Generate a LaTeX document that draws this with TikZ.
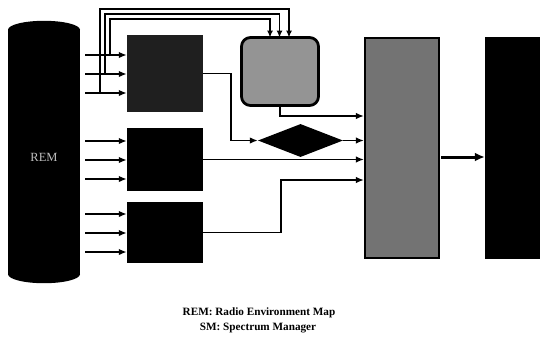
\documentclass[tikz,border=0pt]{standalone}
\usepackage{fontspec}
\setmainfont{Liberation Serif}
\usetikzlibrary{shapes.geometric,arrows.meta}
\begin{document}
\begin{tikzpicture}[x=1pt,y=-1pt,
  inarr/.style={line width=2pt,-{Latex[length=8pt,width=6.5pt]}},
  conn/.style={line width=1.5pt,-{Latex[length=8pt,width=6.5pt]}},
  fbline/.style={line width=1.6pt,-{Latex[length=7pt,width=6pt]}},
  bigarr/.style={line width=3pt,-{Latex[length=10pt,width=9pt]}},
  blkbox/.style={rectangle,fill=black,minimum width=76pt,inner sep=0pt},
  legtext/.style={font=\fontsize{11.2}{13}\selectfont\bfseries,inner sep=0pt}
]
\useasboundingbox (0,0) rectangle (540,338);

% REM cylinder
\node[rectangle,minimum width=72pt,minimum height=244pt,inner sep=0pt] (rem) at (44,152) {};
\fill[black] (rem.north west) rectangle (rem.south east);
\fill[black] (rem.north) ellipse[x radius=36,y radius=9];
\fill[black] (rem.south) ellipse[x radius=36,y radius=9];
\node[text=black!25,font=\fontsize{12.5}{14}\selectfont,inner sep=0pt] (remlabel) at (44,157) {REM};

% processing boxes
\node[blkbox,fill=black!88,minimum height=77pt] (box1) at (165,73.5) {};
\node[blkbox,minimum height=63pt] (box2) at (165,159.5) {};
\node[blkbox,minimum height=61pt] (box3) at (165,232.5) {};

% rounded box
\node[rectangle,rounded corners=9pt,draw=black,line width=2.8pt,fill=black!42,
      minimum width=77pt,minimum height=68pt,inner sep=0pt] (rr) at (280,71.5) {};

% diamond
\node[diamond,fill=black,minimum width=85pt,minimum height=33pt,inner sep=0pt] (dia) at (300.5,140.5) {};

% SM box
\node[rectangle,draw=black,line width=2.2pt,fill=black!55,
      minimum width=74pt,minimum height=220pt,inner sep=0pt] (sm) at (402,148) {};

% right black box
\node[rectangle,fill=black,minimum width=55pt,minimum height=222pt,inner sep=0pt] (rb) at (512.5,148) {};

% input arrows from REM
\foreach \n/\y/\b in {a1/55/box1,a2/74/box1,a3/93/box1,
                      a4/141/box2,a5/160/box2,a6/179/box2,
                      a7/214/box3,a8/233/box3,a9/252/box3}{
  \coordinate (\n) at (85,\y);
  \draw[inarr] (\n) -- (\n -| \b.west);
}

% feedback lines to rounded box
\coordinate (j1) at (110,55);  \coordinate (t1) at (270,19);
\coordinate (j2) at (105,74);  \coordinate (t2) at (279.5,14);
\coordinate (j3) at (100,93);  \coordinate (t3) at (289,9);
\draw[fbline] (j1) |- (t1) -- ([yshift=-1.5pt]t1 |- rr.north);
\draw[fbline] (j2) |- (t2) -- ([yshift=-1.5pt]t2 |- rr.north);
\draw[fbline] (j3) |- (t3) -- ([yshift=-1.5pt]t3 |- rr.north);

% connectors to SM
\coordinate (k1) at (231,140.5);
\draw[conn] (box1.east) -| (k1) -- (dia.west);
\coordinate (k2) at (280,116);
\draw[conn] (rr.south) -- (k2) -- (k2 -| sm.west);
\draw[conn] (dia.east) -- (dia.east -| sm.west);
\draw[conn] (box2.east) -- (box2.east -| sm.west);
\coordinate (k3) at (281,180);
\draw[conn] (box3.east) -| (k3) -- (k3 -| sm.west);

% SM output
\coordinate (o1) at (441,157);
\draw[bigarr] (o1) -- (o1 -| rb.west);

% legend
\node[legtext] (leg1) at (259,313) {REM: Radio Environment Map};
\node[legtext] (leg2) at (258,328) {SM: Spectrum Manager};
\end{tikzpicture}
\end{document}
